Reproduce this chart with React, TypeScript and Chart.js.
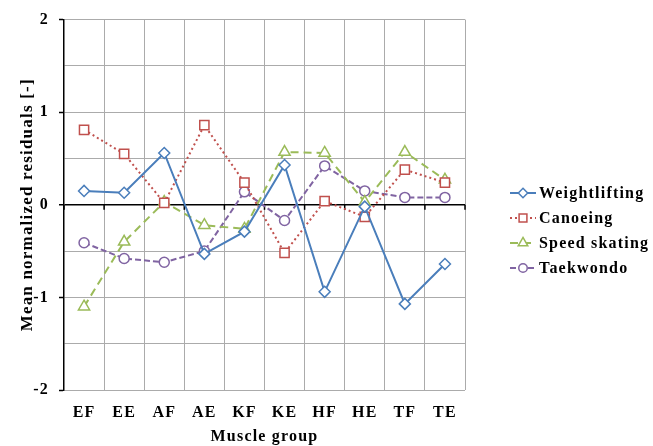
import React, { useEffect, useRef } from 'react';
import { Chart, registerables } from 'chart.js';

Chart.register(...registerables);

const categories = ['EF', 'EE', 'AF', 'AE', 'KF', 'KE', 'HF', 'HE', 'TF', 'TE'];
const weightlifting = [0.15, 0.13, 0.56, -0.53, -0.29, 0.43, -0.94, -0.02, -1.07, -0.64];
const canoeing = [0.81, 0.55, 0.02, 0.86, 0.24, -0.52, 0.04, -0.13, 0.38, 0.24];
const speedSkating = [-1.1, -0.4, 0.03, -0.22, -0.26, 0.57, 0.56, 0.03, 0.57, 0.27];
const taekwondo = [-0.41, -0.58, -0.62, -0.5, 0.14, -0.17, 0.42, 0.15, 0.08, 0.08];
const seriesNames = ['Weightlifting', 'Canoeing', 'Speed skating', 'Taekwondo'];
const yMin = -2;
const yMax = 2;
const yStep = 0.5;

const FONT = '"Liberation Serif", "Times New Roman", serif';
const LETTER_SPACING = '1.2px';

const styles = [
  { color: '#4A7EBB', dash: [] as number[], point: 'rectRot', radius: 5.5 },
  { color: '#C0504D', dash: [2, 3], point: 'rect', radius: 6.5 },
  { color: '#9BBB59', dash: [8, 5], point: 'triangle', radius: 6.5 },
  { color: '#8064A2', dash: [6, 3], point: 'circle', radius: 5 },
];

function drawMarker(ctx: CanvasRenderingContext2D, kind: string, x: number, y: number, r: number) {
  ctx.beginPath();
  if (kind === 'rectRot') {
    ctx.moveTo(x, y - r);
    ctx.lineTo(x + r, y);
    ctx.lineTo(x, y + r);
    ctx.lineTo(x - r, y);
    ctx.closePath();
  } else if (kind === 'rect') {
    const s = r * Math.SQRT1_2;
    ctx.rect(x - s, y - s, 2 * s, 2 * s);
  } else if (kind === 'triangle') {
    const w = (r * Math.sqrt(3)) / 2;
    ctx.moveTo(x, y - r);
    ctx.lineTo(x + w, y + r / 2);
    ctx.lineTo(x - w, y + r / 2);
    ctx.closePath();
  } else {
    ctx.arc(x, y, r, 0, Math.PI * 2);
  }
  ctx.fillStyle = '#ffffff';
  ctx.fill();
  ctx.stroke();
}

const spacingPlugin = {
  id: 'letterSpacing',
  beforeLayout(chart: any) {
    (chart.ctx as any).letterSpacing = LETTER_SPACING;
  },
  beforeDraw(chart: any) {
    (chart.ctx as any).letterSpacing = LETTER_SPACING;
  },
};

const axisTicksPlugin = {
  id: 'axisTicks',
  beforeDatasetsDraw(chart: any) {
    const { ctx, chartArea, scales } = chart;
    const y0 = scales.y.getPixelForValue(0);
    const n = categories.length;
    const w = (chartArea.right - chartArea.left) / n;
    ctx.save();
    ctx.strokeStyle = '#000';
    ctx.lineWidth = 1.5;
    for (let i = 0; i <= n; i++) {
      const x = chartArea.left + i * w;
      ctx.beginPath();
      ctx.moveTo(x, y0);
      ctx.lineTo(x, y0 + 5);
      ctx.stroke();
    }
    ctx.restore();
  },
};

const legendPlugin = {
  id: 'customLegend',
  afterDraw(chart: any) {
    const { ctx } = chart;
    ctx.save();
    (ctx as any).letterSpacing = LETTER_SPACING;
    const x0 = 510;
    const x1 = 536;
    const startY = 193;
    const gap = 25;
    chart.data.datasets.forEach((ds: any, i: number) => {
      const st = styles[i];
      const y = startY + i * gap;
      ctx.strokeStyle = st.color;
      ctx.lineWidth = 2;
      ctx.setLineDash(st.dash);
      ctx.beginPath();
      ctx.moveTo(x0, y);
      ctx.lineTo(x1, y);
      ctx.stroke();
      ctx.setLineDash([]);
      ctx.lineWidth = 1.5;
      drawMarker(ctx, st.point, (x0 + x1) / 2, y, st.radius * 0.85);
      ctx.fillStyle = '#000';
      ctx.font = `bold 16px ${FONT}`;
      ctx.textBaseline = 'middle';
      ctx.textAlign = 'left';
      ctx.fillText(ds.label, x1 + 3, y + 1);
    });
    ctx.restore();
  },
};

export default function App() {
  const ref = useRef<HTMLCanvasElement | null>(null);

  useEffect(() => {
    if (!ref.current) return;
    const seriesData = [weightlifting, canoeing, speedSkating, taekwondo];
    const chart = new Chart(ref.current, {
      type: 'line',
      data: {
        labels: categories,
        datasets: seriesData.map((d, i) => ({
          label: seriesNames[i],
          data: d,
          borderColor: styles[i].color,
          backgroundColor: '#ffffff',
          borderWidth: 2,
          borderDash: styles[i].dash,
          pointStyle: styles[i].point as any,
          pointRadius: styles[i].radius,
          pointBorderWidth: 1.5,
          pointBackgroundColor: '#ffffff',
          pointBorderColor: styles[i].color,
          tension: 0,
          fill: false,
        })),
      },
      options: {
        responsive: false,
        animation: false,
        layout: { padding: { left: 0, right: 188, top: 19, bottom: 0 } },
        plugins: {
          legend: { display: false },
          tooltip: { enabled: false },
        },
        scales: {
          x: {
            type: 'category',
            offset: true,
            grid: { offset: true, color: '#ababab', lineWidth: 1, drawTicks: false },
            border: { display: false },
            ticks: {
              color: '#000',
              font: { family: FONT, size: 16, weight: 'bold' },
              padding: 13,
              maxRotation: 0,
            },
            title: {
              display: true,
              text: 'Muscle group',
              color: '#000',
              font: { family: FONT, size: 16, weight: 'bold' },
              padding: { top: 0, bottom: 0 },
            },
            afterFit(scale: any) {
              scale.height = 56;
            },
          },
          y: {
            min: yMin,
            max: yMax,
            ticks: {
              stepSize: yStep,
              color: '#000',
              font: { family: FONT, size: 16, weight: 'bold' },
              padding: 10,
              callback: (v: any) => (Number.isInteger(Number(v)) ? String(v) : ''),
            },
            grid: {
              color: (c: any) => (c.tick && c.tick.value === 0 ? '#000000' : '#ababab'),
              lineWidth: (c: any) => (c.tick && c.tick.value === 0 ? 1.5 : 1),
              drawTicks: true,
              tickLength: 5,
              tickColor: (c: any) => (c.tick && Number.isInteger(c.tick.value) ? '#000000' : 'rgba(0,0,0,0)'),
              tickWidth: 1.5,
            },
            border: { display: true, color: '#000', width: 1.5 },
            title: {
              display: true,
              text: 'Mean normalized residuals [-]',
              color: '#000',
              font: { family: FONT, size: 17, weight: 'bold' },
              padding: { top: 17, bottom: 0 },
            },
            afterFit(scale: any) {
              scale.width = 64;
            },
          },
        },
      },
      plugins: [spacingPlugin, axisTicksPlugin, legendPlugin],
    });
    return () => chart.destroy();
  }, []);

  return (
    <div style={{ position: 'absolute', left: 0, top: 0, width: 653, height: 446, background: '#fff' }}>
      <canvas ref={ref} width={653} height={446} />
    </div>
  );
}
